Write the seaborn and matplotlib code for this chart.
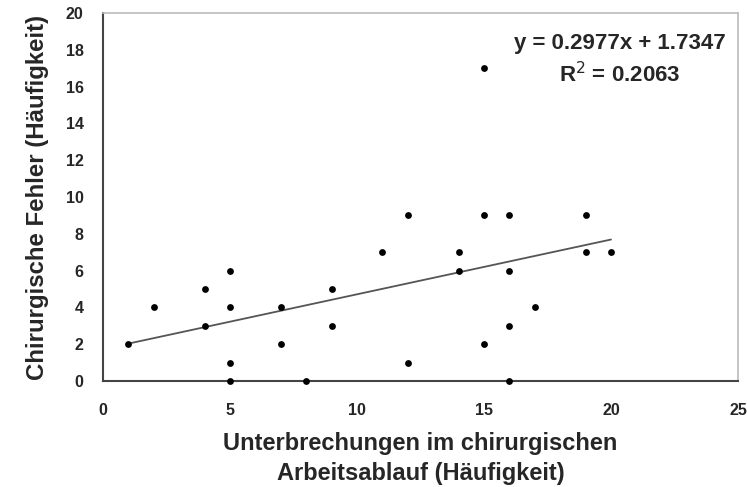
import numpy as np
import pandas as pd
import matplotlib
matplotlib.use("Agg")
import matplotlib.pyplot as plt
import seaborn as sns

sns.set_style("white")
plt.rcParams['font.family'] = ['Liberation Sans', 'DejaVu Sans']

# Unterbrechungen (x) und Fehler (y)
interruptions = [1, 2, 4, 4, 5, 5, 5, 5, 7, 7, 8, 9, 9, 11, 12, 12, 14, 14,
                 15, 15, 15, 16, 16, 16, 16, 17, 19, 19, 20]
errors = [2, 4, 5, 3, 6, 4, 1, 0, 4, 2, 0, 5, 3, 7, 9, 1, 7, 6,
          17, 9, 2, 9, 6, 3, 0, 4, 9, 7, 7]
slope = 0.2977
intercept = 1.7347
r2 = 0.2063

df = pd.DataFrame({'x': interruptions, 'y': errors})
xline = np.array([min(interruptions), max(interruptions)])
df_line = pd.DataFrame({'x': xline, 'y': slope * xline + intercept})

fig = plt.figure(figsize=(7.47, 4.87), dpi=100)
ax = fig.add_axes([103/747, 1 - 381/487, 635/747, 368/487])

sns.lineplot(data=df_line, x='x', y='y', color='#555555', lw=1.3, ax=ax)
sns.scatterplot(data=df, x='x', y='y', color='black', s=24, edgecolor='black',
                linewidth=0, zorder=3, clip_on=False, ax=ax)

ax.set_xlim(0, 25)
ax.set_ylim(0, 20)
ax.set_xticks(range(0, 26, 5))
ax.set_yticks(range(0, 21, 2))
ax.tick_params(axis='y', direction='out', length=5, width=1.2, color='#444444',
               labelsize=11.5, pad=9)
ax.tick_params(axis='x', direction='in', length=5, width=1.2, color='#444444',
               labelsize=11.5, pad=16)
for lab in ax.get_xticklabels() + ax.get_yticklabels():
    lab.set_fontweight('bold')

for side in ['left', 'bottom']:
    ax.spines[side].set_color('#444444')
    ax.spines[side].set_linewidth(1.5)
for side in ['top', 'right']:
    ax.spines[side].set_color('#bbbbbb')
    ax.spines[side].set_linewidth(1.2)

ax.set_xlabel('Unterbrechungen im chirurgischen\nArbeitsablauf (Häufigkeit)',
              fontsize=17, fontweight='bold', labelpad=10, linespacing=1.4)
ax.set_ylabel('Chirurgische Fehler (Häufigkeit)', fontsize=17.3,
              fontweight='bold', labelpad=12)

ax.text(0.814, 0.918, 'y = {:.4f}x + {:.4f}'.format(slope, intercept),
        transform=ax.transAxes, ha='center', va='center', fontsize=16,
        fontweight='bold')
ax.text(0.814, 0.832, 'R$^2$ = {:.4f}'.format(r2),
        transform=ax.transAxes, ha='center', va='center', fontsize=16,
        fontweight='bold')

fig.savefig('out.png', dpi=100)
